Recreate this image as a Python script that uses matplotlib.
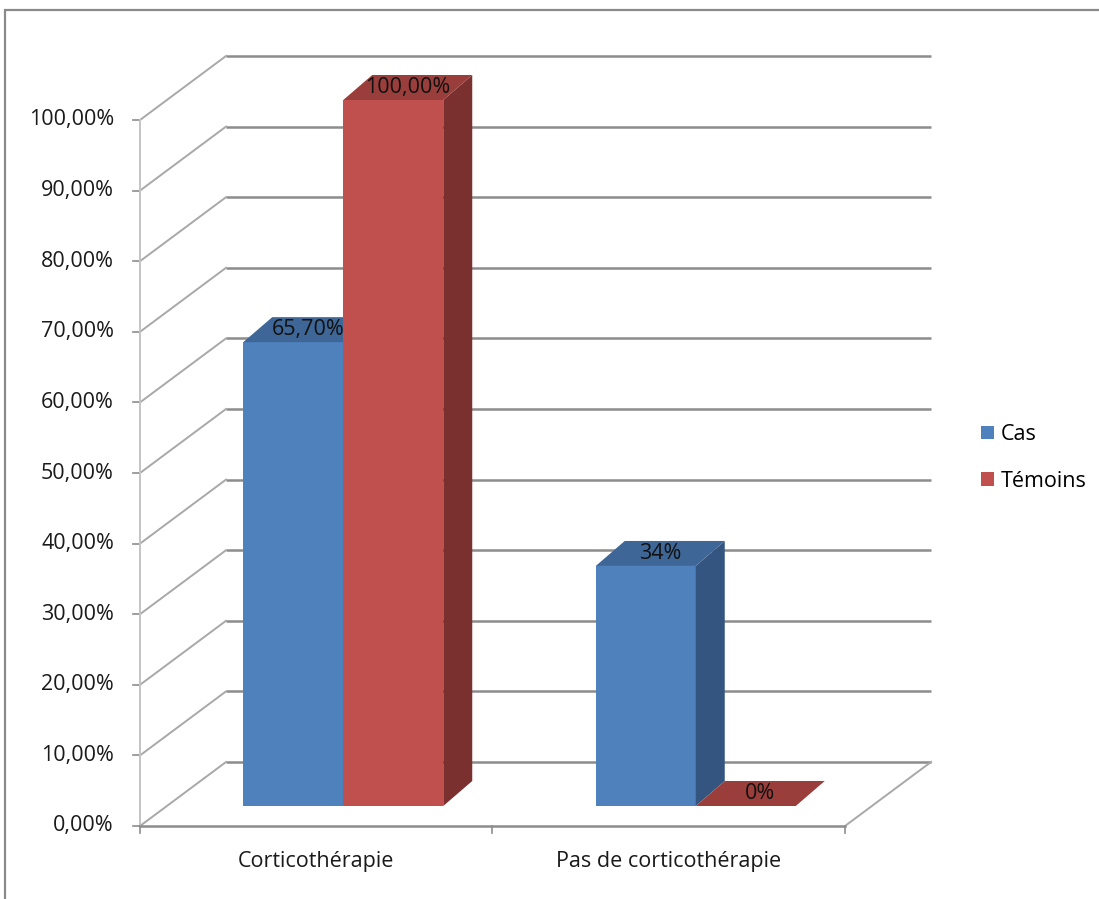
import matplotlib
matplotlib.use("Agg")
import matplotlib.pyplot as plt
from matplotlib.patches import Polygon, Patch, Rectangle

# Data
categories = ["Corticothérapie", "Pas de corticothérapie"]
series = ["Cas", "Témoins"]
cas_values = [65.7, 34.0]
temoins_values = [100.0, 0.0]
value_labels = [["65,70%", "34%"], ["100,00%", "0%"]]
y_ticks = list(range(0, 101, 10))
y_tick_labels = [f"{v},00%" for v in y_ticks]

front_colors = ["#4F81BD", "#C0504D"]
top_colors = ["#3E6797", "#9A3E3B"]
side_colors = ["#335580", "#7A302E"]

plt.rcParams["font.family"] = ["Open Sans", "DejaVu Sans"]
FS = 15.5

W, H = 1099, 899
fig = plt.figure(figsize=(W / 100, H / 100), dpi=100)
fig.patch.set_facecolor("white")

# front plane of the 3D box: x in category units, y in percent
ax = fig.add_axes([140 / W, 73 / H, 705 / W, 706 / H])
ax.set_xlim(0, len(categories))
ax.set_ylim(0, 100)
ax.axis("off")

px_x = len(categories) / 705.0   # category units per pixel
px_y = 100 / 706.0               # percent per pixel

# oblique depth vectors (data units)
wall_dx, wall_dy = 86 * px_x, 64 * px_y
bar_off_dx, bar_off_dy = 27 * px_x, 20 * px_y
bar_dx, bar_dy = 29 * px_x, 25 * px_y
bar_w = 100 * px_x

grid_col = "#8C8C8C"
wall_col = "#A8A8A8"
lw = 1.8

# back wall gridlines and left wall diagonals
for v, lab in zip(y_ticks, y_tick_labels):
    ax.plot([wall_dx, len(categories) + wall_dx], [v + wall_dy, v + wall_dy],
            color=grid_col, lw=lw, clip_on=False, solid_capstyle="butt", zorder=1)
    ax.plot([0, wall_dx], [v, v + wall_dy], color=wall_col, lw=1.4,
            clip_on=False, zorder=1)
    ax.plot([-7 * px_x, 0], [v, v], color=grid_col, lw=1.2, clip_on=False, zorder=1)
    ax.text(-26 * px_x, v, lab, ha="right", va="center",
            fontsize=FS, color="#1A1A1A")

# front vertical axis, floor edges
ax.plot([0, 0], [0, 100], color="#C4C4C4", lw=1.4, clip_on=False, zorder=1)
ax.plot([0, len(categories)], [0, 0], color=grid_col, lw=lw, clip_on=False, zorder=1)
ax.plot([len(categories), len(categories) + wall_dx], [0, wall_dy],
        color=wall_col, lw=1.4, clip_on=False, zorder=1)
for i in range(len(categories) + 1):
    ax.plot([i, i], [0, -7 * px_y], color=grid_col, lw=1.2, clip_on=False, zorder=1)
for i, c in enumerate(categories):
    ax.text(i + 0.5, -35 * px_y, c, ha="center", va="center", fontsize=FS,
            color="#1A1A1A")

# 3D bars
values = [cas_values, temoins_values]
for s, vals in enumerate(values):
    for i, v in enumerate(vals):
        x0 = i + 0.5 - bar_w + s * bar_w + bar_off_dx
        x1 = x0 + bar_w
        y0 = bar_off_dy
        y1 = bar_off_dy + v
        z = 3 + i * 2 + s
        if v > 0:
            ax.add_patch(Polygon([(x0, y0), (x1, y0), (x1, y1), (x0, y1)],
                                 closed=True, fc=front_colors[s], ec="none",
                                 clip_on=False, zorder=z))
            ax.add_patch(Polygon([(x1, y0), (x1 + bar_dx, y0 + bar_dy),
                                  (x1 + bar_dx, y1 + bar_dy), (x1, y1)],
                                 closed=True, fc=side_colors[s], ec="none",
                                 clip_on=False, zorder=z))
        ax.add_patch(Polygon([(x0, y1), (x1, y1), (x1 + bar_dx, y1 + bar_dy),
                              (x0 + bar_dx, y1 + bar_dy)],
                             closed=True, fc=top_colors[s], ec="none",
                             clip_on=False, zorder=z))
        ax.text((x0 + x1) / 2 + bar_dx / 2, y1 + bar_dy / 2,
                value_labels[s][i], ha="center", va="center", fontsize=FS,
                color="#111111", zorder=20)

# legend
handles = [Patch(fc=front_colors[k], ec="none") for k in range(len(series))]
fig.legend(handles, series, loc="center left", bbox_to_anchor=(962 / W, 1 - 458 / H),
           frameon=False, fontsize=FS, handlelength=0.6, handleheight=0.6,
           handletextpad=0.3, labelspacing=1.2)

# chart area border
fig.add_artist(Rectangle((5 / W, -0.01), 1.1, 1 - 10 / H + 0.01,
                         transform=fig.transFigure, fill=False,
                         ec="#8A8A8A", lw=1.6))

fig.savefig("out.png", dpi=100)
